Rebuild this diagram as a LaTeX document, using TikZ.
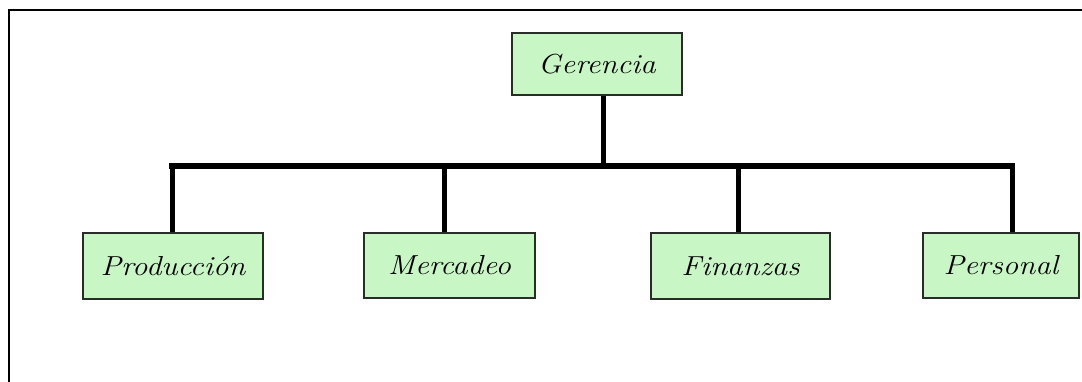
\documentclass[tikz,border=0pt]{standalone}
\usepackage{fontspec}
\definecolor{boxgreen}{RGB}{200,246,196}
\definecolor{boxline}{RGB}{40,45,40}
\tikzset{
  orgbox/.style={draw=boxline, line width=1.3pt, fill=boxgreen, inner sep=0pt,
    font=\fontsize{27.5}{32}\selectfont\itshape},
  busline/.style={line width=6.5pt, line cap=rect},
  dropline/.style={line width=5pt},
}
\newcommand{\wtext}[1]{\scalebox{1.12}[1]{#1}}
\begin{document}
\begin{tikzpicture}[x=1pt,y=-1pt]
\useasboundingbox (0,0) rectangle (1082,381);
\fill[white] (0,0) rectangle (1082,381);
\begin{scope}
\clip (0,0) rectangle (1082,381);
\draw[line width=2pt] (9,400) -- (9,10) -- (1100,10);
\end{scope}
\node[orgbox, minimum width=170pt, minimum height=62pt] (ger) at (597,64) {\wtext{Gerencia}};
\node[orgbox, minimum width=180pt, minimum height=66pt] (prod) at (173,266) {\wtext{Producción}};
\node[orgbox, minimum width=171pt, minimum height=65pt] (merc) at (449.5,265.5) {\wtext{Mercadeo}};
\node[orgbox, minimum width=179pt, minimum height=66pt] (fin) at (740.5,266) {\wtext{Finanzas}};
\node[orgbox, minimum width=156pt, minimum height=65pt] (pers) at (1001,265.5) {\wtext{Personal}};
\coordinate (b0) at (603,166);
\coordinate (b1) at (172,166);
\coordinate (b2) at (444.5,166);
\coordinate (b3) at (738.5,166);
\coordinate (b4) at (1012,166);
\draw[dropline] (b0 |- ger.south) -- (b0);
\draw[dropline] (b1) -- (b1 |- prod.north);
\draw[dropline] (b2) -- (b2 |- merc.north);
\draw[dropline] (b3) -- (b3 |- fin.north);
\draw[dropline] (b4) -- (b4 |- pers.north);
\draw[busline] (b1) -- (b4);
\end{tikzpicture}
\end{document}
